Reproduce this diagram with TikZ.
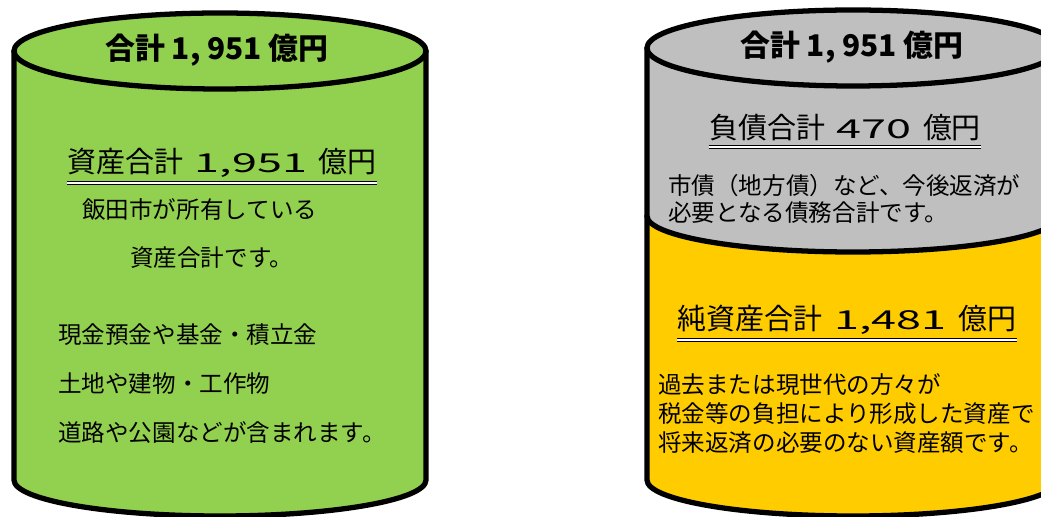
\documentclass[tikz,border=0pt]{standalone}
\usepackage{graphicx}
\usepackage{fontspec}
\setmainfont{Noto Sans CJK JP}
\definecolor{assetgreen}{RGB}{146,208,80}
\definecolor{debtgray}{RGB}{191,191,191}
\definecolor{netyellow}{RGB}{255,204,0}
\newcommand{\widedigits}[1]{\hspace{0.4em}\scalebox{1.55}[0.9]{#1}\hspace{0.4em}}

\begin{document}
\begin{tikzpicture}[x=0.02cm, y=0.02cm,
    body/.style={line width=3pt, line join=round},
    title/.style={inner sep=0pt, font=\fontsize{17}{20}\selectfont\bfseries},
    heading/.style={inner sep=0pt, font=\fontsize{16.5}{20}\selectfont},
    note/.style={inner sep=0pt, anchor=west, font=\fontsize{13.4}{16}\selectfont},
    dblline/.style={double, double distance=1pt, line width=0.6pt}]

    \clip (0,0) rectangle (1041,517);

    % Left cylinder
    \draw[body, fill=assetgreen] (14,466) -- (14,37) arc[start angle=180, end angle=360, x radius=206, y radius=36] -- (426,466) -- cycle;
    \draw[body, fill=assetgreen] (220,466) ellipse [x radius=206, y radius=38];

    % Right cylinder
    \draw[body, fill=netyellow] (647,301) -- (647,37) arc[start angle=180, end angle=360, x radius=206, y radius=36] -- (1059,301) -- cycle;
    \draw[body, fill=debtgray] (647,469) -- (647,301) arc[start angle=180, end angle=360, x radius=206, y radius=36] -- (1059,469) -- cycle;
    \draw[body, fill=debtgray] (853,469) ellipse [x radius=206, y radius=38];

    % Titles
    \node[title] (t1) at (217,467) {合計 1, 951 億円};
    \node[title] (t2) at (852,470) {合計 1, 951 億円};

    % Headings
    \node[heading] (h1) at (222,354) {資産合計\widedigits{1,951}億円};
    \node[heading] (h2) at (845,389) {負債合計\widedigits{470}億円};
    \node[heading] (h3) at (847,197) {純資産合計\widedigits{1,481}億円};
    \foreach \h in {h1, h2, h3}
        \draw[dblline] ([yshift=-3pt]\h.south west) -- ([yshift=-3pt]\h.south east);

    % Notes
    \node[note] (l1) at (82,307) {飯田市が所有している};
    \node[note] (l2) at (130,259) {資産合計です。};
    \node[note] (l3) at (58,182) {現金預金や基金・積立金};
    \node[note] (l4) at (58,133) {土地や建物・工作物};
    \node[note] (l5) at (58,84) {道路や公園などが含まれます。};

    \node[note] (r1) at (668,331) {市債（地方債）など、今後返済が};
    \node[note] (r2) at (668,304) {必要となる債務合計です。};
    \node[note] (r3) at (658,132) {過去または現世代の方々が};
    \node[note] (r4) at (658,103) {税金等の負担により形成した資産で};
    \node[note] (r5) at (658,74) {将来返済の必要のない資産額です。};
\end{tikzpicture}
\end{document}
